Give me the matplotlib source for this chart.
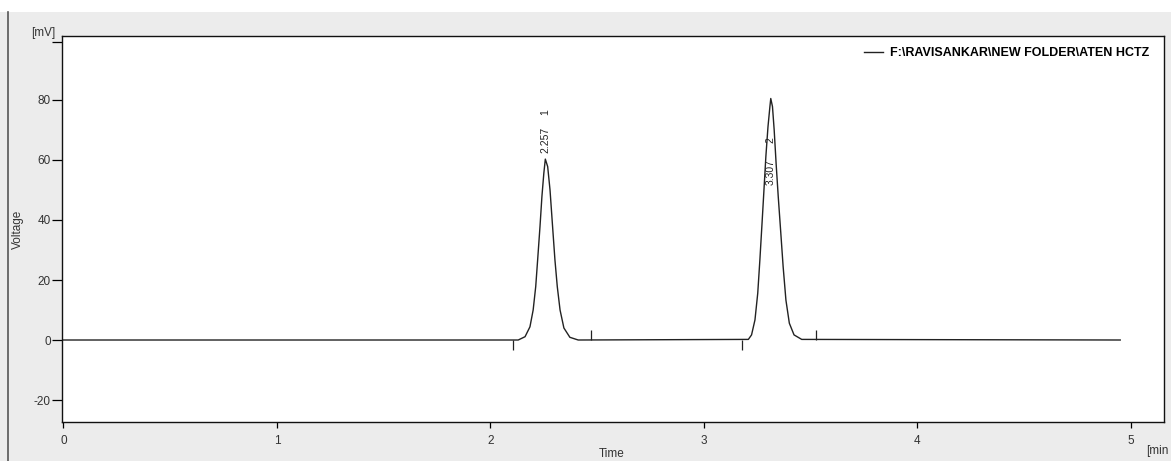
import numpy as np
import matplotlib
matplotlib.use("Agg")
import matplotlib.pyplot as plt
from matplotlib.lines import Line2D
from matplotlib.patches import Rectangle

W, H, DPI = 1171, 461, 100

# chromatogram trace (time [min], voltage [mV])
time_min = [0.0, 2.130, 2.162, 2.185, 2.200, 2.212, 2.221, 2.232, 2.241, 2.250,
            2.257, 2.268, 2.279, 2.291, 2.302, 2.313, 2.326, 2.344, 2.372, 2.411,
            3.208, 3.223, 3.239, 3.252, 3.262, 3.273, 3.282, 3.290, 3.300, 3.309,
            3.313, 3.321, 3.329, 3.338, 3.348, 3.359, 3.371, 3.384, 3.400, 3.422,
            3.458, 4.95]
voltage_mv = [0.0, 0.0, 1.1, 4.4, 10.0, 17.8, 26.7, 37.8, 47.8, 55.6,
              60.3, 57.8, 50.0, 37.8, 26.7, 17.8, 10.0, 4.0, 0.9, 0.0,
              0.2, 1.7, 6.7, 15.6, 26.7, 40.0, 51.1, 61.1, 71.1, 77.8,
              80.5, 77.8, 70.0, 58.9, 47.8, 36.7, 24.4, 13.3, 5.6, 1.7,
              0.2, 0.0]

# peak annotations
peak_times = [2.257, 3.313]
peak_rt_labels = ["2.257", "3.307"]
peak_numbers = ["1", "2"]
rt_label_bottom = [62.3, 51.7]
num_label_center = [76.0, 66.5]

# integration start / end markers
peak_starts = [2.104, 3.177]
peak_ends = [2.469, 3.525]

x_ticks = [0, 1, 2, 3, 4, 5]
y_ticks = [-20, 0, 20, 40, 60, 80]

legend_label = "F:\\RAVISANKAR\\NEW FOLDER\\ATEN HCTZ"

plt.rcParams['font.family'] = ['Liberation Sans', 'DejaVu Sans']

fig = plt.figure(figsize=(W / DPI, H / DPI), dpi=DPI)
fig.patch.set_facecolor('#ececec')

# white strip on top and dark frame line on the left
fig.patches.append(Rectangle((0, 1 - 12 / H), 1, 12 / H, transform=fig.transFigure,
                             facecolor='white', edgecolor='none', zorder=0))
fig.lines.append(Line2D([7.5 / W, 7.5 / W], [0, 1 - 12 / H], transform=fig.transFigure,
                        color='#555555', linewidth=1.2))

ax = fig.add_axes([62 / W, (H - 422) / H, (1164 - 62) / W, (422 - 36) / H])
ax.set_facecolor('white')

ax.plot(time_min, voltage_mv, color='#222222', linewidth=1.0, label=legend_label)

ax.vlines(peak_starts, -3.3, 0, color='#222222', linewidth=0.9)
ax.vlines(peak_ends, 0, 3.3, color='#222222', linewidth=0.9)

for t, rt, num, yb, yn in zip(peak_times, peak_rt_labels, peak_numbers,
                              rt_label_bottom, num_label_center):
    ax.text(t, yb, rt, rotation=90, ha='center', va='bottom', fontsize=7.5,
            color='#222222')
    ax.text(t, yn, num, rotation=90, ha='center', va='center', fontsize=7.5,
            color='#222222')

ax.set_xlim(-0.007, 5.155)
ax.set_ylim(-27.33, 101.33)

ax.set_xticks(x_ticks)
ax.set_xticklabels([str(v) for v in x_ticks])
ax.set_yticks(y_ticks + [99.3])
ax.set_yticklabels([str(v) for v in y_ticks] + [""])
ax.tick_params(axis='y', direction='out', length=7, width=0.9, pad=1,
               labelsize=8.5, labelcolor='#333333')
ax.tick_params(axis='x', direction='out', length=4, width=0.9, pad=5,
               labelsize=8.5, labelcolor='#333333')

for s in ax.spines.values():
    s.set_linewidth(1.0)
    s.set_color('#111111')

ax.set_ylabel("Voltage", fontsize=8.5, color='#333333', va='center')
ax.yaxis.set_label_coords(-0.040, 0.5)
ax.set_xlabel("Time", fontsize=8.5, color='#333333', va='center')
ax.xaxis.set_label_coords(0.4985, -0.083)

fig.text(55 / W, 1 - 33 / H, "[mV]", ha='right', va='center', fontsize=8.5,
         color='#333333')
fig.text(1146 / W, 1 - 451 / H, "[min", ha='left', va='center', fontsize=8.5,
         color='#333333')

ax.legend(loc='center right', bbox_to_anchor=(0.987, 0.956), frameon=False,
          borderpad=0, borderaxespad=0, handlelength=1.5, handletextpad=0.6,
          prop={'weight': 'bold', 'size': 9})

fig.savefig("out.png", dpi=DPI, facecolor=fig.get_facecolor())
